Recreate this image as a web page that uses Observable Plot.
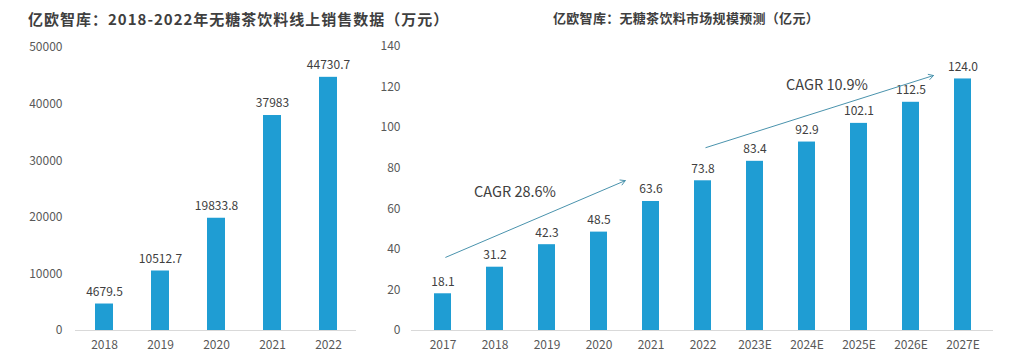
<!DOCTYPE html>
<html>
<head>
<meta charset="utf-8">
<script src="https://cdn.jsdelivr.net/npm/d3@7"></script>
<script src="https://cdn.jsdelivr.net/npm/@observablehq/plot@0.6"></script>
<style>
  html, body { margin: 0; padding: 0; background: #fff; }
  #wrap { position: relative; width: 1024px; height: 362px; overflow: hidden; font-family: "Noto Sans CJK SC", "Noto Sans", sans-serif; }
  .title { position: absolute; font-weight: bold; color: #3f3f3f; white-space: nowrap; line-height: 1; }
  #t1 { left: 28px; top: 11px; font-size: 15px; letter-spacing: 1px; }
  #t2 { left: 686px; top: 11px; font-size: 13px; letter-spacing: 0.3px; transform: translateX(-50%); }
  #p1 { position: absolute; left: 0; top: 0; }
  #p2 { position: absolute; left: 360px; top: 0; }
  svg { overflow: visible; }
</style>
</head>
<body>
<div id="wrap">
  <div id="p1"></div>
  <div id="p2"></div>
  <div class="title" id="t1">亿欧智库：2018-2022年无糖茶饮料线上销售数据（万元）</div>
  <div class="title" id="t2">亿欧智库：无糖茶饮料市场规模预测（亿元）</div>
</div>
<script>
// Left chart: online sales (万元)
const salesYears = ["2018", "2019", "2020", "2021", "2022"];
const salesValues = [4679.5, 10512.7, 19833.8, 37983, 44730.7];
const salesLabels = ["4679.5", "10512.7", "19833.8", "37983", "44730.7"];
const salesTicks = [0, 10000, 20000, 30000, 40000, 50000];

// Right chart: market size forecast (亿元)
const marketYears = ["2017", "2018", "2019", "2020", "2021", "2022", "2023E", "2024E", "2025E", "2026E", "2027E"];
const marketValues = [18.1, 31.2, 42.3, 48.5, 63.6, 73.8, 83.4, 92.9, 102.1, 112.5, 124.0];
const marketLabels = ["18.1", "31.2", "42.3", "48.5", "63.6", "73.8", "83.4", "92.9", "102.1", "112.5", "124.0"];
const marketTicks = [0, 20, 40, 60, 80, 100, 120, 140];

// CAGR annotations
const cagrText = ["CAGR 28.6%", "CAGR 10.9%"];
const cagrFrom = ["2017", "2022"];
const cagrTo = ["2021", "2027E"];
const cagrStartValue = [35.5, 89.7];
const cagrEndValue = [79.3, 130.3];
const cagrLabelYear = ["2018", "2024E"];
const cagrLabelValue = [68, 120.7];

const BAR = "#1f9dd3";
const ARROW = "#4a93ad";
const FONT = "'Noto Sans CJK SC', 'Noto Sans', sans-serif";

const sales = salesYears.map((y, i) => ({year: y, value: salesValues[i], label: salesLabels[i]}));
const market = marketYears.map((y, i) => ({year: y, value: marketValues[i], label: marketLabels[i]}));
const cagr = cagrText.map((t, i) => ({
  text: t, x1: cagrFrom[i], x2: cagrTo[i], y1: cagrStartValue[i], y2: cagrEndValue[i],
  lx: cagrLabelYear[i], ly: cagrLabelValue[i]
}));

const left = Plot.plot({
  width: 360, height: 362,
  marginLeft: 75, marginRight: 4, marginTop: 47, marginBottom: 32,
  style: {fontFamily: FONT, fontSize: "12px", color: "#595959", background: "transparent"},
  x: {domain: salesYears, paddingInner: 0.68, paddingOuter: 0.34, label: null, tickSize: 0, tickPadding: 10},
  y: {domain: [0, 50000], ticks: salesTicks, tickFormat: d => String(d), label: null, tickSize: 0, tickPadding: 13},
  marks: [
    Plot.barY(sales, {x: "year", y: "value", fill: BAR}),
    Plot.ruleY([0], {stroke: "#d9d9d9", strokeWidth: 1}),
    Plot.text(sales, {x: "year", y: "value", text: "label", dy: -12, fill: "#404040", fontSize: 12})
  ]
});
document.getElementById("p1").appendChild(left);

const right = Plot.plot({
  width: 664, height: 362,
  marginLeft: 51, marginRight: 31, marginTop: 46, marginBottom: 32,
  style: {fontFamily: FONT, fontSize: "12px", color: "#595959", background: "transparent"},
  x: {domain: marketYears, paddingInner: 0.68, paddingOuter: 0.34, label: null, tickSize: 0, tickPadding: 10},
  y: {domain: [0, 140], ticks: marketTicks, label: null, tickSize: 0, tickPadding: 11},
  marks: [
    Plot.barY(market, {x: "year", y: "value", fill: BAR}),
    Plot.ruleY([0], {stroke: "#d9d9d9", strokeWidth: 1}),
    Plot.text(market, {x: "year", y: "value", text: "label", dy: -12, fill: "#404040", fontSize: 12}),
    Plot.arrow([cagr[0]], {x1: "x1", y1: "y1", x2: "x2", y2: "y2", stroke: ARROW, strokeWidth: 1,
      insetStart: 3, insetEnd: 28, headLength: 8}),
    Plot.arrow([cagr[1]], {x1: "x1", y1: "y1", x2: "x2", y2: "y2", stroke: ARROW, strokeWidth: 1,
      insetStart: 3, insetEnd: 31, headLength: 8}),
    Plot.text(cagr, {x: "lx", y: "ly", text: "text", dx: 20, fill: "#404040", fontSize: 14.5})
  ]
});
document.getElementById("p2").appendChild(right);
</script>
</body>
</html>
